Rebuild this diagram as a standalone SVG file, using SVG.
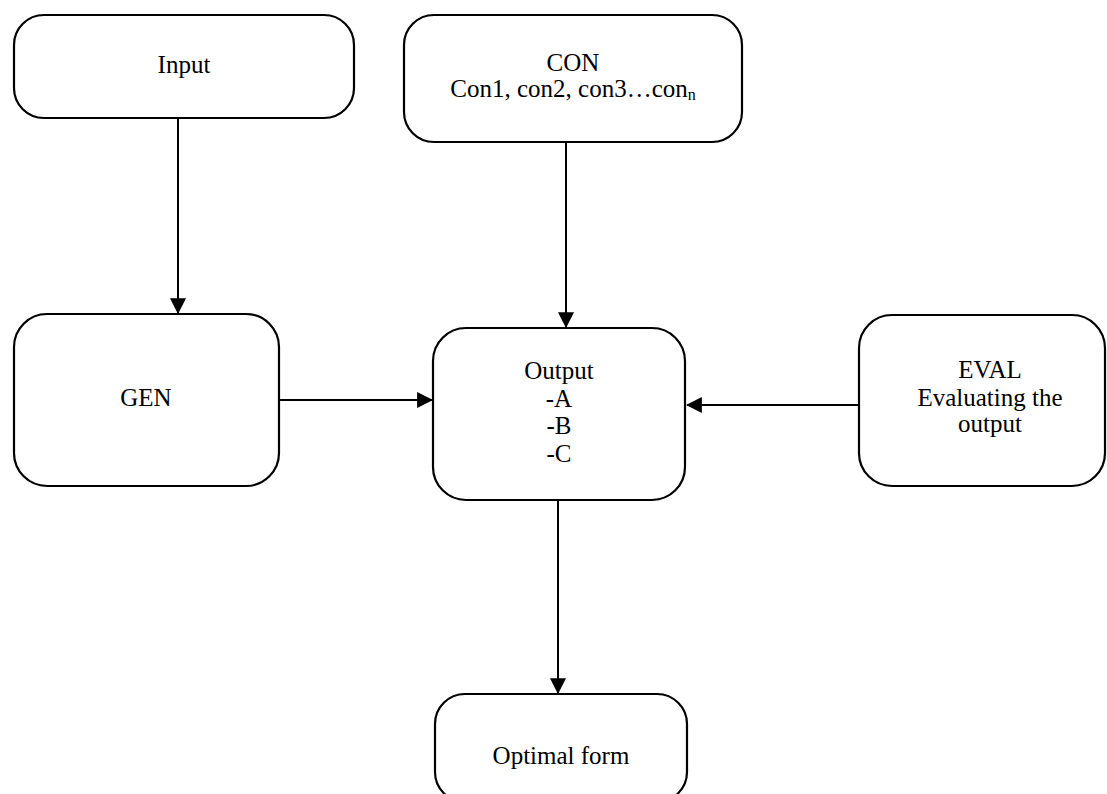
<svg xmlns="http://www.w3.org/2000/svg" width="1107" height="794" viewBox="0 0 1107 794">
<style>
.box{fill:#fff;stroke:#000;stroke-width:2.2}
.t{font-family:"Liberation Serif","Times New Roman",serif;font-size:25px;fill:#000;text-anchor:middle}
.c{stroke:#000;stroke-width:2;fill:none;marker-end:url(#ah)}
</style>
<defs>
<marker id="ah" markerUnits="userSpaceOnUse" markerWidth="16" markerHeight="16" viewBox="0 0 14 14" refX="13" refY="7" orient="auto">
<path d="M0,0 L14,7 L0,14 Z" fill="#000"/>
</marker>
</defs>
<rect width="1107" height="794" fill="#fff"/>
<g id="connectors">
<line class="c" x1="178" y1="118" x2="178" y2="313"/>
<line class="c" x1="566" y1="142" x2="566" y2="327"/>
<line class="c" x1="280" y1="400" x2="432" y2="400"/>
<line class="c" x1="859" y1="405" x2="687" y2="405"/>
<line class="c" x1="558" y1="500" x2="558" y2="693"/>
</g>
<g id="input">
<rect class="box" x="14" y="15" width="340" height="103" rx="30"/>
<text class="t" x="184" y="73">Input</text>
</g>
<g id="con">
<rect class="box" x="404" y="15" width="338" height="127" rx="30"/>
<text class="t" x="573" y="71">CON</text>
<text class="t" x="573" y="97">Con1, con2, con3…con<tspan font-size="16" dy="3">n</tspan></text>
</g>
<g id="gen">
<rect class="box" x="14" y="314" width="265" height="172" rx="33"/>
<text class="t" x="146" y="406">GEN</text>
</g>
<g id="output">
<rect class="box" x="433" y="328" width="252" height="172" rx="33"/>
<text class="t" x="559" y="379">Output</text>
<text class="t" x="559" y="407">-A</text>
<text class="t" x="559" y="434">-B</text>
<text class="t" x="559" y="462">-C</text>
</g>
<g id="eval">
<rect class="box" x="859" y="315" width="246" height="171" rx="33"/>
<text class="t" x="990" y="378">EVAL</text>
<text class="t" x="990" y="406">Evaluating the</text>
<text class="t" x="990" y="432">output</text>
</g>
<g id="optimal">
<rect class="box" x="435" y="694" width="252" height="108" rx="30"/>
<text class="t" x="561" y="764">Optimal form</text>
</g>
</svg>
